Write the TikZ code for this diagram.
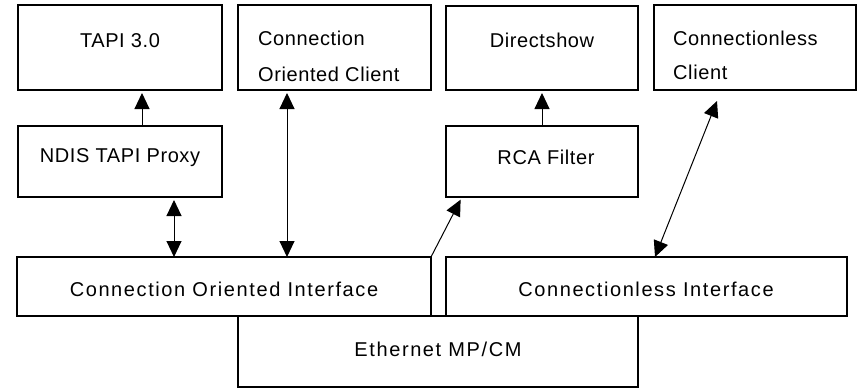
\documentclass[tikz,border=0pt]{standalone}
\usepackage{fontspec}
\setmainfont{Liberation Sans}
\newfontfamily\narrowfont[LetterSpace=3]{Liberation Sans}
\newfontfamily\widefont[LetterSpace=8]{Liberation Sans}
\usetikzlibrary{arrows.meta}
\begin{document}
\begin{tikzpicture}[x=1pt,y=-1pt,
  box/.style={draw, line width=1.2pt, inner sep=0pt, outer sep=0pt, anchor=north west},
  lbl/.style={inner sep=0pt, font=\fontsize{20}{24}\narrowfont},
  wlbl/.style={inner sep=0pt, font=\fontsize{20}{24}\widefont},
  tip/.style={Triangle[length=16pt,width=15pt]},
  arr/.style={line width=1pt, -{Triangle[length=16pt,width=15pt]}},
  darr/.style={line width=1pt, {Triangle[length=16pt,width=15pt]}-{Triangle[length=16pt,width=15pt]}}]
\useasboundingbox (0,0) rectangle (858,388);
% boxes
\node[box, minimum width=204pt, minimum height=85pt] (tapi) at (18,5) {};
\node[box, minimum width=193pt, minimum height=85pt] (coc) at (238,5) {};
\node[box, minimum width=192pt, minimum height=84pt] (dshow) at (446,6) {};
\node[box, minimum width=202pt, minimum height=85pt] (clc) at (654,5) {};
\node[box, minimum width=204pt, minimum height=71pt] (ndis) at (18,126) {};
\node[box, minimum width=192pt, minimum height=71pt] (rca) at (446,126) {};
\node[box, minimum width=414pt, minimum height=59pt] (coi) at (17,257) {};
\node[box, minimum width=401pt, minimum height=59pt] (cli) at (446,257) {};
\node[box, minimum width=400pt, minimum height=71pt] (eth) at (238,316) {};
% labels
\node[lbl, anchor=base] (tapit) at (120,47) {TAPI 3.0};
\node[lbl, anchor=base west] (coct1) at (258,45) {Connection};
\node[lbl, anchor=base west] (coct2) at (258,81) {Oriented Client};
\node[lbl, anchor=base] (dshowt) at (542,47) {Directshow};
\node[lbl, anchor=base west] (clct1) at (673,45) {Connectionless};
\node[lbl, anchor=base west] (clct2) at (673,79) {Client};
\node[lbl, anchor=base] (ndist) at (120,162) {NDIS TAPI Proxy};
\node[lbl, anchor=base] (rcat) at (546,164) {RCA Filter};
\node[wlbl, anchor=base] (coit) at (224,296) {Connection Oriented Interface};
\node[wlbl, anchor=base] (clit) at (646,296) {Connectionless Interface};
\node[wlbl, anchor=base] (etht) at (438,356) {Ethernet MP/CM};
% connector helper columns
\coordinate (xa) at (142,0);
\coordinate (xb) at (287,0);
\coordinate (xc) at (174,0);
\coordinate (xd) at (542,0);
\coordinate (xe) at (462,0);
\coordinate (cltop) at (717,101);
\coordinate (clbot) at (655,257);
% connectors
\draw[arr, shorten >=3pt] (xa |- ndis.north) -- (xa |- tapi.south);
\draw[darr, shorten <=3pt] (xb |- coc.south) -- (xb |- coi.north);
\draw[darr, shorten <=3pt] (xc |- ndis.south) -- (xc |- coi.north);
\draw[arr, shorten >=3pt] (xd |- rca.north) -- (xd |- dshow.south);
\draw[arr, shorten >=3pt] (coi.north east) -- (xe |- rca.south);
\draw[darr] (cltop) -- (clbot);
\end{tikzpicture}
\end{document}
